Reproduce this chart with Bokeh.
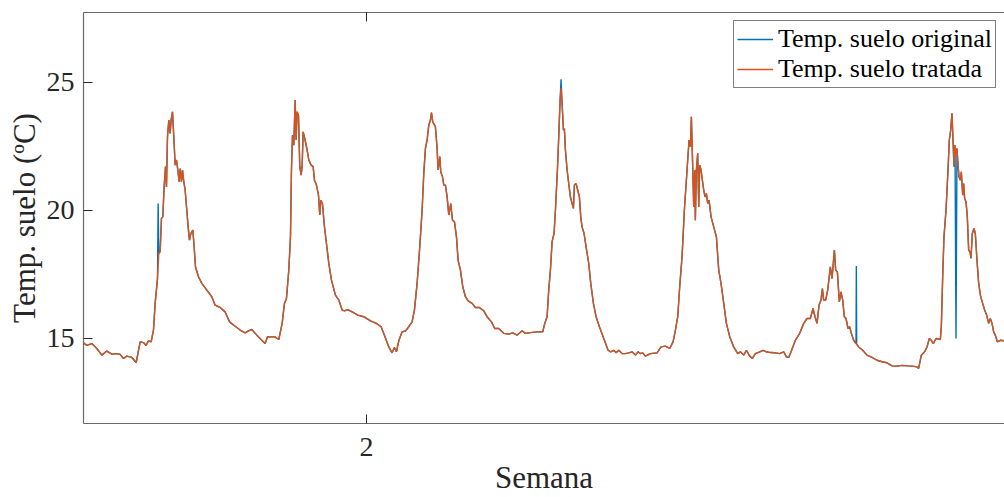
from bokeh.plotting import figure
from bokeh.models import Range1d, LinearAxis, FixedTicker, Legend, LegendItem
from bokeh.embed import file_html
from bokeh.resources import INLINE

# ---------------- data ----------------
# hours since the first sample
horas = [
    0.00, 0.61, 1.53, 2.45, 3.37, 4.29, 5.21, 6.13, 6.74, 7.36, 7.97, 8.89, 9.69,
    10.42, 11.03, 11.52, 11.95, 12.44, 12.87, 13.18, 13.61, 13.85, 14.10, 14.34,
    14.59, 14.83, 15.08, 15.26, 15.45, 15.69, 15.94, 16.12, 16.37, 16.61, 16.86,
    17.10, 17.35, 17.59, 17.78, 18.02, 18.21, 18.45, 18.70, 19.00, 19.25, 19.49,
    19.74, 20.11, 20.35, 20.60, 21.15, 21.76, 22.68, 23.60, 24.21, 25.13, 26.05,
    26.85, 27.89, 28.81, 29.73, 30.34, 30.96, 31.88, 32.80, 33.41, 33.84, 34.63,
    35.13, 35.92, 36.54, 36.96, 37.33, 37.76, 38.07, 38.25, 38.44, 38.68, 38.93,
    39.11, 39.29, 39.54, 39.78, 40.03, 40.21, 40.40, 40.70, 41.13, 41.44, 41.87,
    42.24, 42.48, 42.85, 43.22, 43.46, 43.65, 43.95, 44.32, 44.69, 45.12, 45.61,
    46.34, 46.96, 47.57, 48.00, 48.61, 49.41, 50.45, 51.55, 52.78, 53.88, 54.74,
    55.35, 56.15, 56.76, 57.19, 57.56, 57.99, 58.60, 59.22, 59.83, 60.44, 60.87,
    61.36, 61.85, 62.28, 62.59, 62.89, 63.20, 63.51, 63.81, 64.00, 64.24, 64.73,
    65.04, 65.22, 65.53, 65.71, 66.02, 66.27, 66.57, 66.88, 67.19, 67.55, 67.86,
    68.23, 68.60, 68.90, 69.33, 69.76, 70.25, 70.74, 71.48, 72.09, 72.82, 73.62,
    74.23, 75.03, 75.64, 76.38, 77.30, 78.22, 78.95, 79.75, 80.67, 81.28, 82.20,
    83.43, 84.47, 84.84, 85.27, 85.57, 85.88, 86.19, 86.55, 86.80, 87.17, 87.41,
    87.66, 87.84, 88.03, 88.27, 88.45, 88.64, 88.95, 89.25, 89.56, 89.87, 90.11,
    90.29, 90.60, 90.91, 91.21, 91.46, 91.70, 92.07, 92.44, 92.93, 93.30, 93.79,
    94.28, 94.89, 95.69, 96.49, 96.98, 97.53, 97.96, 98.45, 99.06, 99.67, 100.29,
    100.90, 101.51, 102.00, 102.43, 102.86, 103.35, 104.27, 105.50, 106.23,
    107.03, 107.82, 108.44, 108.87, 109.30, 109.66, 110.09, 110.52, 111.01,
    111.38, 111.63, 111.81, 112.05, 112.24, 112.42, 112.54, 112.73, 112.97,
    113.16, 113.34, 113.59, 113.83, 114.08, 114.32, 114.57, 114.81, 115.06,
    115.43, 115.92, 116.41, 116.84, 117.26, 117.76, 118.25, 118.86, 119.59,
    120.33, 120.82, 121.43, 121.92, 122.54, 123.03, 123.58, 124.38, 124.99,
    125.60, 126.34, 127.26, 128.05, 128.79, 129.28, 129.71, 130.14, 130.93,
    131.73, 132.47, 133.08, 133.69, 134.18, 134.55, 134.92, 135.29, 135.65,
    135.90, 136.14, 136.51, 136.88, 137.10, 137.37, 137.68, 138.11, 138.35,
    138.66, 139.02, 139.33, 139.64, 139.94, 140.25, 140.62, 140.92, 141.23,
    141.66, 142.09, 142.21, 142.58, 143.32, 144.11, 145.03, 145.95, 146.87,
    147.79, 148.71, 149.63, 150.55, 151.47, 152.39, 153.31, 153.61, 154.10,
    154.72, 155.15, 155.58, 155.94, 156.31, 156.80, 157.60, 157.78, 158.03,
    158.27, 158.64, 159.01, 159.25, 159.50, 159.74, 159.93, 160.11, 160.30,
    160.48, 160.66, 160.85, 161.03, 161.28, 161.46, 161.71, 161.89, 162.07,
    162.32, 162.56, 162.81, 163.05, 163.24, 163.48, 163.79, 164.03, 164.34,
    164.65, 165.02, 165.38, 165.75, 166.12, 166.49, 166.79, 167.10, 167.41,
    167.71, 168.08, 168.63, 169.37,
]

# treated soil temperature (ºC)
temp_tratada = [
    14.83, 14.73, 14.80, 14.61, 14.35, 14.51, 14.39, 14.41, 14.38, 14.22, 14.31, 14.26, 14.06,
    14.87, 14.84, 14.73, 14.91, 14.87, 15.33, 16.37, 17.34, 18.32, 18.39, 19.69,
    19.75, 20.92, 21.71, 20.92, 22.88, 23.53, 23.01, 23.53, 23.85, 22.88, 21.77,
    21.97, 21.58, 21.12, 21.64, 21.12, 21.58, 21.12, 20.79, 20.01, 19.36, 18.84,
    19.10, 19.23, 18.58, 17.80, 17.41, 17.15, 16.89, 16.63, 16.30, 16.21, 16.04,
    15.65, 15.48, 15.33, 15.22, 15.30, 15.35, 15.13, 14.93, 14.80, 15.07, 15.07,
    15.07, 14.96, 15.59, 16.37, 16.56, 17.67, 18.97, 21.58, 22.94, 22.55, 24.31,
    22.75, 23.85, 23.72, 21.71, 21.38, 21.71, 23.07, 22.81, 22.36, 21.97, 21.77,
    21.71, 21.18, 20.99, 20.60, 19.82, 20.40, 20.27, 19.36, 18.71, 17.93, 17.28,
    16.69, 16.50, 16.11, 16.08, 16.13, 16.04, 15.91, 15.85, 15.69, 15.59, 15.46,
    15.13, 14.67, 14.44, 14.65, 14.48, 14.91, 15.26, 15.29, 15.46, 15.65, 16.11,
    17.15, 18.58, 20.01, 21.45, 22.42, 22.75, 23.33, 23.53, 23.82, 23.46, 23.27,
    22.42, 21.58, 22.10, 21.51, 21.32, 20.99, 20.99, 20.53, 19.82, 20.27, 19.62,
    19.56, 18.97, 18.06, 17.67, 17.02, 16.63, 16.47, 16.37, 16.21, 16.21, 16.08,
    15.85, 15.65, 15.39, 15.39, 15.20, 15.17, 15.22, 15.13, 15.30, 15.20, 15.23,
    15.26, 15.26, 15.59, 15.85, 16.89, 17.67, 18.78, 19.10, 20.01, 21.58, 22.88,
    24.31, 24.77, 24.18, 23.14, 23.20, 22.36, 21.58, 21.05, 20.53, 20.27, 20.08,
    20.99, 21.05, 20.79, 20.53, 19.75, 19.36, 19.10, 18.58, 17.93, 17.15, 16.37,
    15.85, 15.46, 15.00, 14.54, 14.48, 14.54, 14.44, 14.54, 14.41, 14.41, 14.44,
    14.48, 14.35, 14.48, 14.41, 14.44, 14.31, 14.41, 14.44, 14.67,
    14.70, 14.61, 14.87, 15.33, 15.85, 17.02, 18.19, 20.01, 21.58,
    22.75, 22.49, 23.66, 21.71, 20.14, 21.58, 19.62, 21.58, 22.23,
    20.14, 21.77, 21.58, 21.18, 20.79, 20.53, 20.66, 20.27, 20.40,
    19.75, 19.36, 18.97, 17.67, 17.15, 16.37, 15.59, 15.07, 14.67,
    14.41, 14.48, 14.35, 14.54, 14.31, 14.22, 14.41, 14.48, 14.54,
    14.48, 14.45, 14.44, 14.41, 14.48, 14.28, 14.26, 14.48, 14.93,
    15.20, 15.59, 15.78, 15.78, 16.17, 15.85, 15.59, 16.30, 16.50,
    16.95, 16.50, 16.50, 16.89, 17.30, 17.80, 17.34, 18.45, 17.67,
    17.60, 16.43, 16.82, 16.50, 15.85, 15.78, 15.39, 15.46, 15.20,
    14.93, 14.80, 14.78, 14.67, 14.54, 14.35, 14.26, 14.15, 14.09,
    14.05, 13.93, 13.92, 13.95, 13.93, 13.92, 13.89, 13.83, 14.35,
    14.48, 14.67, 15.00, 14.93, 14.80, 15.00, 14.96, 15.46, 17.41,
    18.97, 20.01, 21.58, 22.75, 23.14, 23.79, 22.75, 21.71, 22.55,
    22.23, 22.42, 21.77, 21.32, 21.18, 21.51, 20.60, 21.05, 20.47,
    20.34, 19.75, 18.45, 18.39, 18.13, 19.10, 19.30, 19.10, 18.06,
    17.15, 16.63, 16.37, 16.11, 15.91, 15.59, 15.78, 15.59, 15.26,
    15.13, 14.87, 14.93, 14.91,
]

# outliers present only in the original record (hour, ºC)
pico_horas = [13.73, 87.84, 142.15, 160.48]
pico_temp = [20.27, 25.12, 17.83, 15.00]

semana_inicio = 1.6902      # week value of the first sample
horas_totales = 169.4       # hours shown on the x axis
y_min, y_max = 11.68, 27.73
ticks_x = [2]
ticks_y = [15, 20, 25]

# ---------------- build series ----------------
orig = dict(zip(horas, temp_tratada))
for h, v in zip(pico_horas, pico_temp):
    orig[h] = v
horas_orig = sorted(orig)
temp_original = [orig[h] for h in horas_orig]

sem_trat = [semana_inicio + h / 168.0 for h in horas]
sem_orig = [semana_inicio + h / 168.0 for h in horas_orig]

FONT = "Liberation Serif"
AX = "#262626"

p = figure(width=1004, height=497, output_backend="svg", toolbar_location=None,
           x_range=Range1d(semana_inicio, semana_inicio + horas_totales / 168.0),
           y_range=Range1d(y_min, y_max),
           min_border_left=83, min_border_right=0, min_border_top=12, min_border_bottom=74)
p.outline_line_color = None
p.grid.visible = False
p.background_fill_color = "white"
p.border_fill_color = "white"

r_orig = p.line(sem_orig, temp_original, line_color="#0072BD", line_width=1.4)
r_trat = p.line(sem_trat, temp_tratada, line_color="#D95319", line_width=1.4)

def style(ax):
    ax.axis_line_color = "#6a6a6a"
    ax.axis_line_width = 1.2
    ax.major_tick_in = 9
    ax.major_tick_out = 0
    ax.major_tick_line_color = AX
    ax.major_tick_line_width = 1
    ax.minor_tick_line_color = None
    ax.major_label_text_font = FONT
    ax.major_label_text_color = AX
    ax.axis_label_text_font = FONT
    ax.axis_label_text_color = AX
    ax.axis_label_text_font_style = "normal"

xa = p.xaxis[0]
ya = p.yaxis[0]
style(xa); style(ya)
xa.ticker = FixedTicker(ticks=ticks_x)
ya.ticker = FixedTicker(ticks=ticks_y)
xa.major_label_text_font_size = "28px"
ya.major_label_text_font_size = "28px"
xa.axis_label = "Semana"
ya.axis_label = "Temp. suelo (ºC)"
xa.axis_label_text_font_size = "31px"
ya.axis_label_text_font_size = "31px"
xa.major_label_standoff = 14
xa.axis_label_standoff = 1
ya.major_label_standoff = 9
ya.axis_label_standoff = 2

# top spine with the inward tick (no labels, like the reference)
top = LinearAxis(ticker=FixedTicker(ticks=ticks_x))
style(top)
top.major_label_text_font_size = "1px"
top.major_label_text_color = None
top.major_label_standoff = 0
p.add_layout(top, "above")

legend = Legend(items=[LegendItem(label="Temp. suelo original", renderers=[r_orig]),
                       LegendItem(label="Temp. suelo tratada", renderers=[r_trat])],
                location=(650, 335))
legend.label_text_font = FONT
legend.label_text_font_size = "26px"
legend.label_text_color = "black"
legend.border_line_color = "black"
legend.border_line_width = 1
legend.background_fill_alpha = 1
legend.glyph_width = 36
legend.glyph_height = 20
legend.label_standoff = 5
legend.padding = 3
legend.spacing = 0
legend.margin = 0
p.add_layout(legend)

open("out.html", "w").write(file_html(p, INLINE))
